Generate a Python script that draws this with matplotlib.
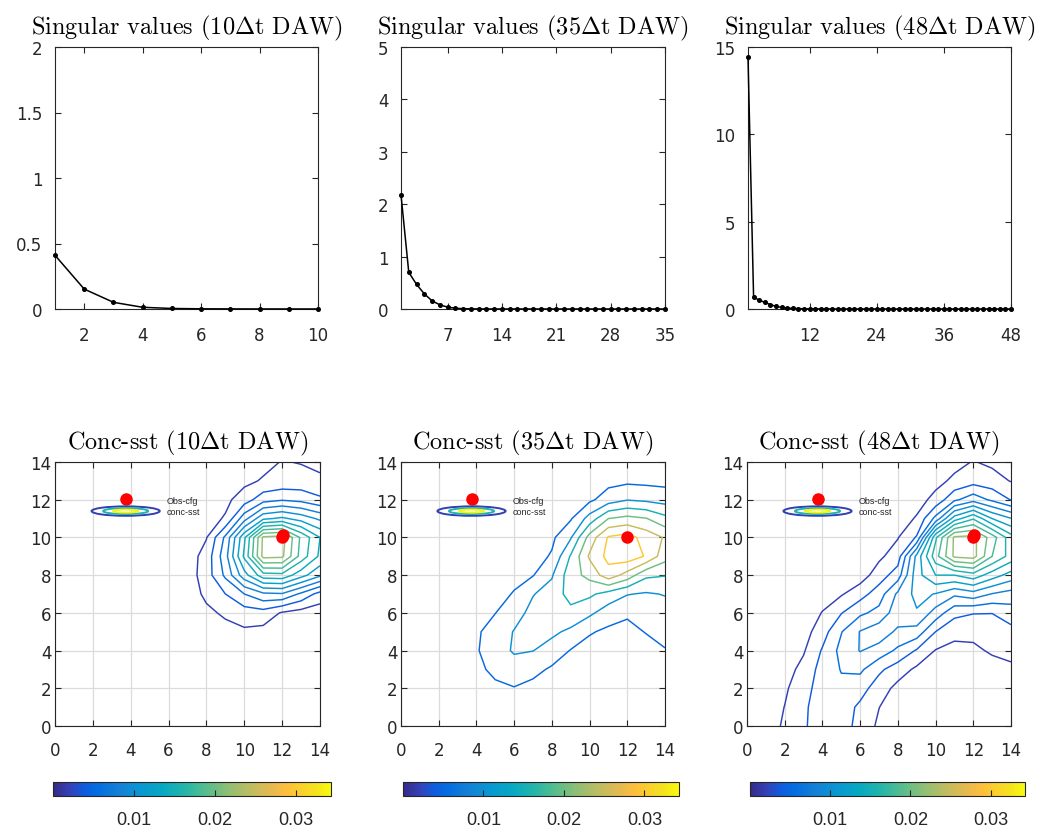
import numpy as np
import matplotlib
matplotlib.use('Agg')
import matplotlib.pyplot as plt
from matplotlib.colors import LinearSegmentedColormap, Normalize
from matplotlib.cm import ScalarMappable
from matplotlib.legend_handler import HandlerBase
from matplotlib.lines import Line2D
from matplotlib.patches import Ellipse
from matplotlib.ticker import FuncFormatter

plt.rcParams['mathtext.fontset'] = 'cm'
plt.rcParams['font.family'] = 'DejaVu Sans'

# ---- singular values of the three assimilation windows ----
sv_10 = [0.41, 0.152, 0.051, 0.013, 0.004, 0.0015, 0.0008, 0.0005, 0.0003, 0.0002]
sv_35 = [2.18, 0.70, 0.47, 0.29, 0.155, 0.08, 0.035, 0.014, 0.006, 0.003,
         0.0015, 0.001, 0.0008, 0.0006, 0.0005, 0.0004, 0.0003, 0.0003, 0.0002, 0.0002,
         0.0002, 0.0001, 0.0001, 0.0001, 0.0001, 0.0001, 0.0001, 0.0001, 0.0001, 0.0001,
         0.0001, 0.0001, 0.0001, 0.0001, 0.0001]
sv_48 = [14.42, 0.67, 0.51, 0.38, 0.25, 0.15, 0.09, 0.055, 0.035, 0.022,
         0.014, 0.009, 0.006, 0.004, 0.003, 0.002, 0.0015, 0.001, 0.001, 0.0008,
         0.0007, 0.0006, 0.0005, 0.0005, 0.0004, 0.0004, 0.0003, 0.0003, 0.0003, 0.0002,
         0.0002, 0.0002, 0.0002, 0.0002, 0.0001, 0.0001, 0.0001, 0.0001, 0.0001, 0.0001,
         0.0001, 0.0001, 0.0001, 0.0001, 0.0001, 0.0001, 0.0001, 0.0001]
sv_xticks = [[2, 4, 6, 8, 10], [7, 14, 21, 28, 35], [12, 24, 36, 48]]
sv_yticks = [[0, 0.5, 1, 1.5, 2], [0, 1, 2, 3, 4, 5], [0, 5, 10, 15]]
windows = ['10', '35', '48']

# ---- conc-sst fields on the 15x15 grid (rows y=14 ... 0, cols x=0 ... 14) ----
# values are given in units of each panel's contour step
grid_x = np.arange(15)
grid_y = np.arange(15)

conc_10 = [
    [0, 0, 0, 0, 0, 0, 0, 0, 0, 0.2, 0.4, 0.7, 1.05, 0.95, 0.8],
    [0, 0, 0, 0, 0, 0, 0, 0, 0.2, 0.45, 0.75, 1.1, 1.3, 1.35, 1.15],
    [0, 0, 0, 0, 0, 0, 0, 0.15, 0.5, 0.75, 1.5, 2.6, 2.9, 2.7, 2.2],
    [0, 0, 0, 0, 0, 0, 0.1, 0.4, 0.6, 1.1, 3.6, 5.8, 6.2, 5.6, 4.8],
    [0, 0, 0, 0, 0, 0, 0.2, 0.4, 0.95, 3.2, 6.8, 11.2, 11.4, 8.8, 7.0],
    [0, 0, 0, 0, 0, 0, 0.2, 0.5, 1.4, 3.6, 7.2, 11.3, 11.2, 8.6, 6.8],
    [0, 0, 0, 0, 0, 0, 0.2, 0.5, 1.5, 3.2, 5.6, 7.6, 7.7, 6.4, 5.2],
    [0, 0, 0, 0, 0, 0, 0.1, 0.5, 1.2, 2.0, 3.0, 3.8, 3.9, 2.8, 1.6],
    [0, 0, 0, 0, 0, 0, 0, 0.4, 0.8, 1.15, 1.5, 1.6, 0.9, 0.6, 0.45],
    [0, 0, 0, 0, 0, 0, 0, 0.1, 0.4, 0.7, 0.85, 0.7, 0.4, 0.3, 0.3],
    [0, 0, 0, 0, 0, 0, 0, 0, 0.1, 0.2, 0.3, 0.3, 0.2, 0.1, 0.1],
    [0] * 15,
    [0] * 15,
    [0] * 15,
    [0] * 15,
]
conc_35 = [
    [0, 0, 0, 0, 0, 0, 0, 0, 0, 0.1, 0.2, 0.4, 0.6, 0.5, 0.45],
    [0, 0, 0, 0, 0, 0, 0, 0, 0.1, 0.2, 0.4, 0.7, 0.8, 0.75, 0.7],
    [0, 0, 0, 0, 0, 0, 0, 0.1, 0.2, 0.5, 0.8, 1.5, 1.95, 1.8, 1.6],
    [0, 0, 0, 0, 0, 0, 0.1, 0.2, 0.4, 0.9, 2.4, 4.0, 4.3, 4.05, 3.3],
    [0, 0, 0, 0, 0, 0, 0.2, 0.35, 0.8, 1.9, 4.4, 6.1, 6.4, 5.6, 4.9],
    [0, 0, 0, 0, 0, 0.1, 0.35, 0.6, 1.1, 3.1, 5.15, 6.3, 6.6, 5.9, 4.4],
    [0, 0, 0, 0, 0, 0.25, 0.6, 0.95, 1.9, 3.6, 4.3, 5.6, 4.6, 3.2, 3.05],
    [0, 0, 0, 0, 0.2, 0.5, 1.1, 1.95, 2.4, 3.4, 3.2, 2.6, 2.05, 1.9, 2.05],
    [0, 0, 0, 0.2, 0.5, 0.98, 1.6, 2.3, 2.5, 2.7, 2.2, 1.5, 1.15, 1.4, 1.6],
    [0, 0, 0, 0.35, 0.85, 1.45, 2.05, 2.3, 2.2, 1.8, 1.1, 0.8, 0.7, 1.05, 1.3],
    [0, 0, 0.1, 0.4, 0.9, 1.6, 2.1, 2.02, 1.6, 0.95, 0.6, 0.5, 0.4, 0.6, 0.95],
    [0, 0, 0.1, 0.3, 0.7, 1.3, 1.6, 1.3, 0.85, 0.5, 0.35, 0.25, 0.2, 0.3, 0.5],
    [0, 0, 0, 0.15, 0.4, 0.75, 0.95, 0.7, 0.4, 0.3, 0.2, 0.1, 0.1, 0.15, 0.25],
    [0, 0, 0, 0, 0.2, 0.4, 0.45, 0.4, 0.2, 0.15, 0.1, 0, 0, 0, 0],
    [0, 0, 0, 0, 0, 0.15, 0.2, 0.2, 0, 0, 0, 0, 0, 0, 0],
]
conc_48 = [
    [0, 0, 0, 0, 0, 0, 0, 0, 0, 0.1, 0.3, 0.7, 1.05, 0.8, 0.6],
    [0, 0, 0, 0, 0, 0, 0, 0, 0.1, 0.2, 0.7, 1.2, 1.6, 1.4, 0.95],
    [0, 0, 0, 0, 0, 0, 0, 0, 0.2, 0.6, 1.3, 2.8, 3.6, 2.8, 1.95],
    [0, 0, 0, 0, 0, 0, 0, 0.2, 0.5, 1.1, 3.3, 6.5, 7.9, 6.0, 5.05],
    [0, 0, 0, 0, 0, 0, 0.1, 0.4, 0.95, 2.1, 7.8, 11.2, 11.3, 9.5, 7.4],
    [0, 0, 0, 0, 0, 0.15, 0.3, 0.8, 1.5, 5.3, 8.6, 11.2, 11.4, 9.0, 7.6],
    [0, 0, 0, 0, 0.2, 0.4, 0.5, 1.5, 2.5, 5.6, 7.0, 7.0, 7.6, 6.5, 5.6],
    [0, 0, 0, 0.1, 0.5, 0.9, 1.6, 2.5, 4.2, 5.3, 4.95, 4.2, 4.6, 3.95, 3.6],
    [0, 0, 0.1, 0.3, 1.05, 1.95, 2.8, 3.3, 4.6, 4.9, 3.6, 2.3, 2.05, 2.02, 2.5],
    [0, 0.05, 0.2, 0.6, 1.55, 2.95, 4.05, 4.6, 3.8, 3.6, 2.0, 1.25, 1.2, 1.5, 1.7],
    [0, 0.1, 0.35, 0.9, 2.1, 3.3, 4.05, 3.6, 2.8, 1.9, 0.95, 0.75, 0.85, 1.1, 1.3],
    [0.05, 0.2, 0.6, 1.3, 2.4, 3.05, 3.2, 2.2, 1.5, 0.8, 0.5, 0.45, 0.5, 0.7, 0.8],
    [0.1, 0.35, 0.85, 1.6, 2.5, 2.8, 2.4, 1.5, 0.7, 0.4, 0.25, 0.25, 0.3, 0.4, 0.45],
    [0.15, 0.45, 1.02, 1.85, 2.45, 2.5, 1.8, 1.02, 0.4, 0.2, 0.1, 0.1, 0.15, 0.2, 0.2],
    [0.2, 0.5, 1.15, 1.9, 2.4, 2.4, 1.7, 0.8, 0.3, 0.1, 0, 0.05, 0.1, 0.1, 0.1],
]
conc_fields = [conc_10, conc_35, conc_48]
conc_steps = [0.002, 0.005, 0.002]
conc_nlev = [11, 6, 11]

# observation location (cfg)
obs_x = [[12.0, 12.05], [12.0], [12.0, 12.05]]
obs_y = [[10.0, 10.12], [10.0], [10.0, 10.12]]
cb_ticks = [0.01, 0.02, 0.03]
c_min, c_max = 0.0, 0.0343

# parula-like colormap
parula = LinearSegmentedColormap.from_list('parula', [
    (0.000, (0.2081, 0.1663, 0.5292)),
    (0.063, (0.1959, 0.2645, 0.7279)),
    (0.111, (0.0591, 0.3598, 0.8683)),
    (0.159, (0.0165, 0.4266, 0.8786)),
    (0.238, (0.0779, 0.5040, 0.8384)),
    (0.317, (0.0343, 0.5966, 0.8199)),
    (0.397, (0.0267, 0.6642, 0.7607)),
    (0.476, (0.1453, 0.7098, 0.6646)),
    (0.556, (0.3482, 0.7424, 0.5473)),
    (0.635, (0.5709, 0.7485, 0.4494)),
    (0.714, (0.7525, 0.7384, 0.3768)),
    (0.794, (0.9139, 0.7258, 0.3063)),
    (0.841, (0.9938, 0.7455, 0.2403)),
    (0.889, (0.9880, 0.8066, 0.1794)),
    (0.952, (0.9589, 0.8949, 0.1132)),
    (1.000, (0.9763, 0.9831, 0.0538)),
])
norm = Normalize(c_min, c_max)
gray = '0.15'


class ConcKey:
    pass


class ContourKey(HandlerBase):
    # little nested ellipses, like matlab's contour legend icon
    def create_artists(self, legend, orig_handle, xdescent, ydescent,
                       width, height, fontsize, trans):
        cx = width / 2 - xdescent
        cy = height / 2 - ydescent
        arts = []
        for wf, hh, val in [(1.0, 6.8, 0.002), (0.66, 4.3, 0.016), (0.37, 2.2, 0.0335)]:
            e = Ellipse((cx, cy), width * wf, hh, fill=False,
                        ec=parula(norm(val)), lw=1.4, transform=trans)
            arts.append(e)
        return arts


fig = plt.figure(figsize=(10.39, 8.29), dpi=100)
W, H = 1039.0, 829.0


def box(l, t, r, b):
    return fig.add_axes([l / W, 1 - b / H, (r - l) / W, (b - t) / H])


def style(ax, xpad, ypad):
    ax.tick_params(direction='in', top=True, right=True, length=4, width=0.8,
                   colors=gray, labelsize=12)
    ax.tick_params(axis='x', pad=xpad)
    ax.tick_params(axis='y', pad=ypad)
    for s in ax.spines.values():
        s.set_color(gray)
        s.set_linewidth(0.8)


fmt = FuncFormatter(lambda v, p: '%g' % v)

top_boxes = [(55, 48, 318, 310), (401, 48, 665, 310), (748, 48, 1011, 310)]
bot_boxes = [(55, 463, 320, 727), (401, 463, 665, 727), (747, 463, 1011, 727)]
cb_boxes = [(53, 783, 331, 797), (403, 783, 679, 797), (750, 783, 1025, 797)]

# ---- top row: singular values ----
for i, sv in enumerate([sv_10, sv_35, sv_48]):
    ax = box(*top_boxes[i])
    n = np.arange(1, len(sv) + 1)
    ax.plot(n, sv, '-', color='k', lw=1.1, marker='o', ms=2.6, clip_on=False, zorder=3)
    ax.set_xlim(1, len(sv))
    ax.set_ylim(sv_yticks[i][0], sv_yticks[i][-1])
    ax.set_xticks(sv_xticks[i])
    ax.set_yticks(sv_yticks[i])
    ax.yaxis.set_major_formatter(fmt)
    style(ax, 12, 9)
    ax.set_title('Singular values (' + windows[i] + r'$\Delta$t DAW)',
                 fontfamily='cmr10', fontsize=17.5, pad=10)

# ---- bottom row: conc-sst contours ----
for i, field in enumerate(conc_fields):
    ax = box(*bot_boxes[i])
    z = np.flipud(np.array(field, dtype=float)) * conc_steps[i]
    levels = conc_steps[i] * np.arange(1, conc_nlev[i] + 1)
    ax.grid(True, color='0.86', lw=0.9)
    ax.set_axisbelow(True)
    ax.contour(grid_x, grid_y, z, levels=levels, cmap=parula, norm=norm,
               linewidths=1.05, zorder=2)
    ax.plot(obs_x[i], obs_y[i], 'o', color='red', ms=8, mec='red', zorder=4)
    ax.set_xlim(0, 14)
    ax.set_ylim(0, 14)
    ax.set_xticks(np.arange(0, 15, 2))
    ax.set_yticks(np.arange(0, 15, 2))
    style(ax, 11, 2.5)
    ax.set_title('Conc-sst (' + windows[i] + r'$\Delta$t DAW)',
                 fontfamily='cmr10', fontsize=17.5, pad=10)

    obs_key = Line2D([], [], ls='none', marker='o', color='red', ms=8)
    leg = ax.legend([obs_key, ConcKey()], ['Obs-cfg', 'conc-sst'],
                    handler_map={ConcKey: ContourKey()},
                    loc='upper left', bbox_to_anchor=(0.138, 0.873),
                    frameon=False, borderpad=0, borderaxespad=0,
                    handlelength=7.55, handletextpad=0.73, labelspacing=0.3,
                    prop={'family': 'Liberation Sans', 'size': 6.5})
    for t in leg.get_texts():
        t.set_color(gray)

    cax = box(*cb_boxes[i])
    cb = fig.colorbar(ScalarMappable(norm=norm, cmap=parula), cax=cax,
                      orientation='horizontal', ticks=cb_ticks, format=fmt)
    cb.outline.set_edgecolor(gray)
    cb.outline.set_linewidth(0.8)
    cax.tick_params(direction='in', length=4, width=0.8, colors=gray,
                    labelsize=13, pad=11, labelfontfamily='Liberation Sans')

fig.savefig('out.png', dpi=100)
